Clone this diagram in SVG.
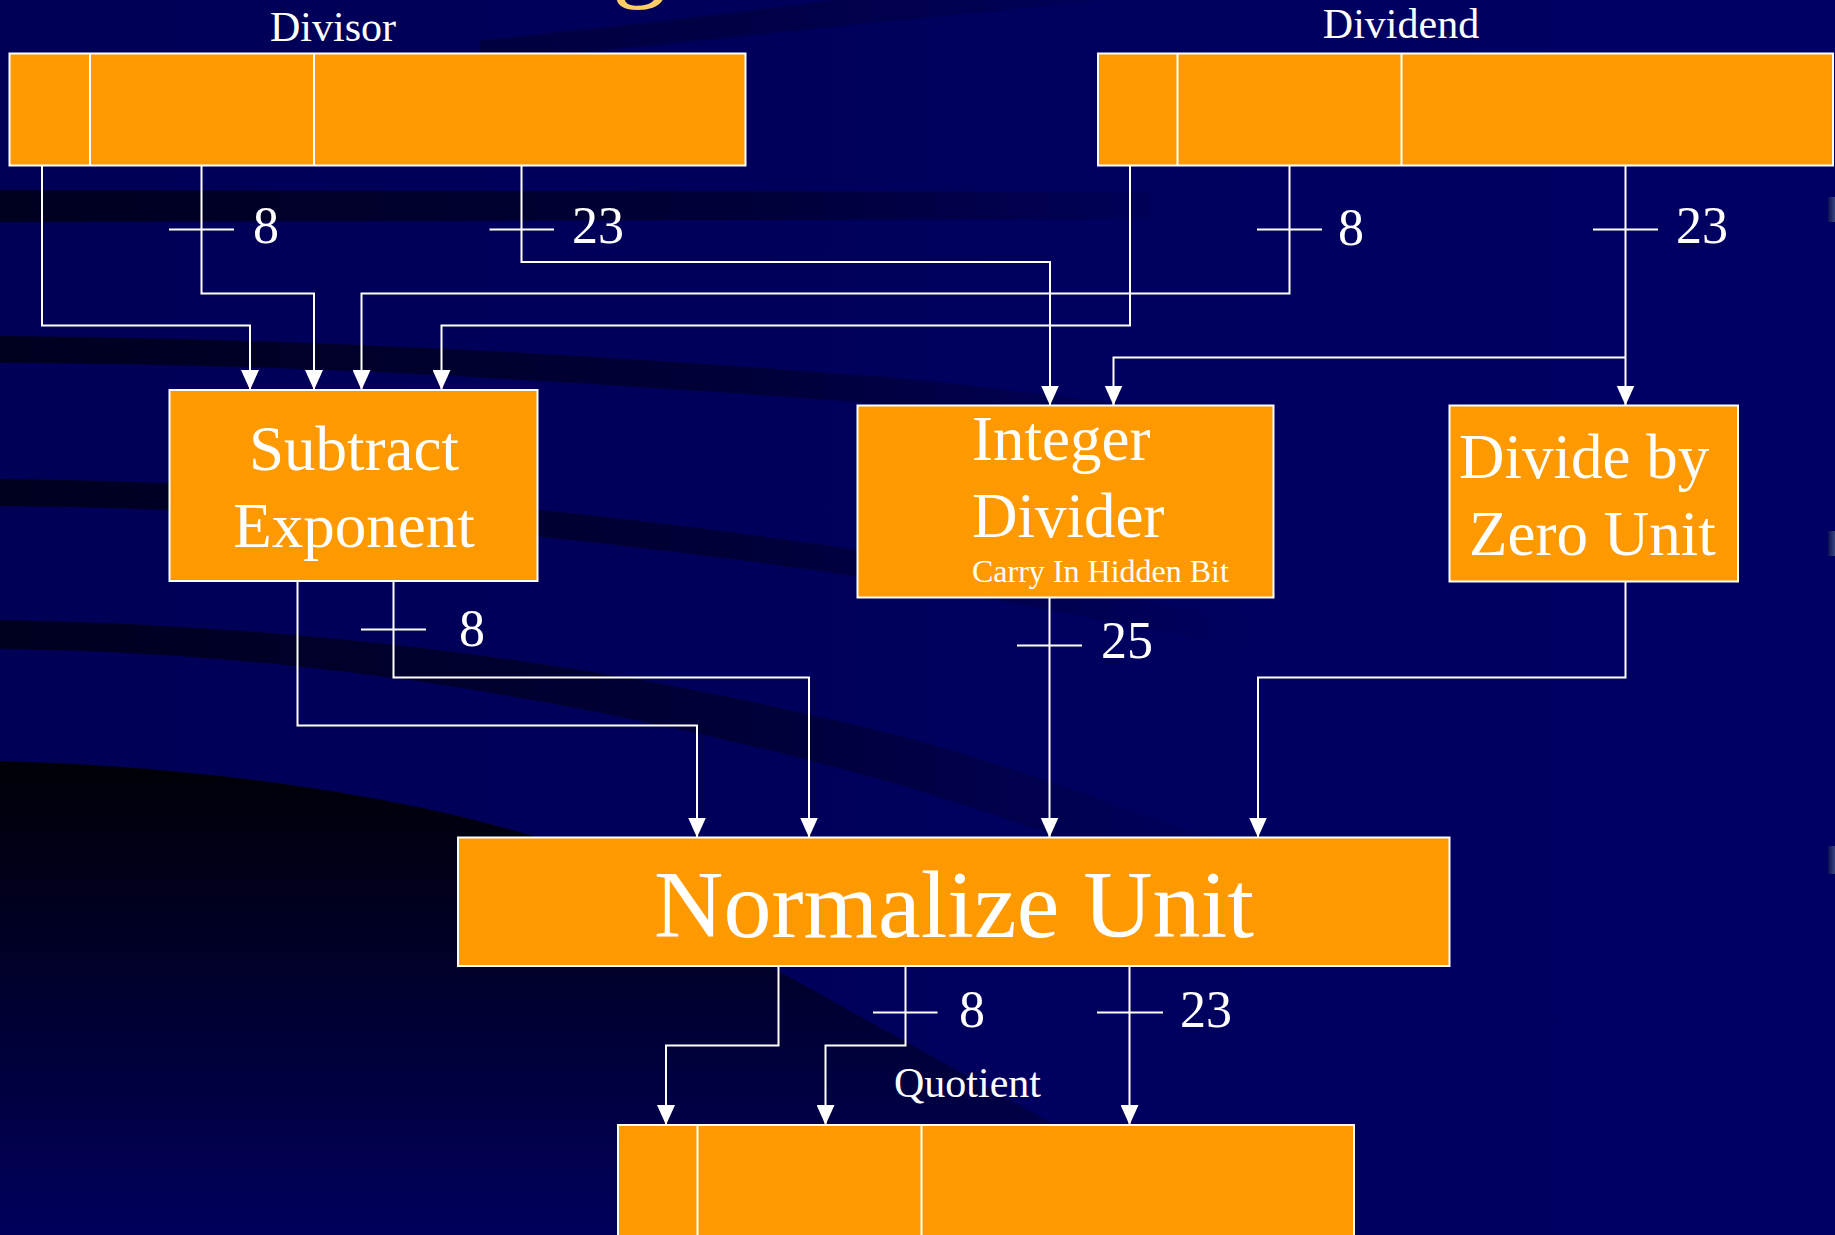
<svg xmlns="http://www.w3.org/2000/svg" width="1835" height="1235" viewBox="0 0 1835 1235">
<defs>
<style>
.box{fill:#ff9900;stroke:#ffffff;stroke-width:2}
.div{stroke:#ffffff;stroke-width:2;fill:none}
.wire{stroke:#ffffff;stroke-width:2;fill:none}
.arr{marker-end:url(#ah)}
.t{font-family:"Liberation Serif","Times New Roman",serif;fill:#ffffff}
.big{font-size:63px}
.num{font-size:52px}
.cap{font-size:42px}
.small{font-size:32px}
.huge{font-size:96px}
</style>
<marker id="ah" markerUnits="userSpaceOnUse" markerWidth="20" markerHeight="18" refX="20" refY="9" orient="auto" viewBox="0 0 20 18">
<path d="M0,0 L20,9 L0,18 Z" fill="#ffffff"/>
</marker>
<linearGradient id="bg" x1="0" y1="0" x2="1" y2="0">
<stop offset="0" stop-color="#000056"/>
<stop offset="1" stop-color="#000064"/>
</linearGradient>
<linearGradient id="bandfade" gradientUnits="userSpaceOnUse" x1="0" y1="0" x2="1250" y2="0">
<stop offset="0" stop-color="#00001c" stop-opacity="0.95"/>
<stop offset="0.6" stop-color="#00001c" stop-opacity="0.55"/>
<stop offset="1" stop-color="#00001c" stop-opacity="0"/>
</linearGradient>
<linearGradient id="darkv" gradientUnits="userSpaceOnUse" x1="0" y1="770" x2="0" y2="1235">
<stop offset="0" stop-color="#000008"/>
<stop offset="0.35" stop-color="#000024"/>
<stop offset="1" stop-color="#00005c"/>
</linearGradient>
<linearGradient id="edge" x1="0" y1="0" x2="1" y2="0">
<stop offset="0" stop-color="#0a1050"/>
<stop offset="1" stop-color="#3a4680"/>
</linearGradient>
</defs>

<g id="background">
<rect x="0" y="0" width="1835" height="1235" fill="url(#bg)"/>
<path d="M480,62 C700,42 900,18 1160,-4 L1160,-40 C900,-10 700,20 480,40 Z" fill="url(#bandfade)" opacity="0.6"/>
<path d="M0,190 L1150,192 L1150,219 L0,222 Z" fill="url(#bandfade)"/>
<path d="M0,336 C300,338 600,355 900,378 C1000,388 1100,402 1250,420 L1250,446 C1100,428 1000,414 900,405 C600,383 300,363 0,363 Z" fill="url(#bandfade)"/>
<path d="M0,479 C300,482 600,510 900,556 C1000,572 1100,592 1250,620 L1250,648 C1100,620 1000,600 900,583 C600,537 300,508 0,506 Z" fill="url(#bandfade)"/>
<path d="M0,620 C300,625 600,660 900,736 C1000,762 1100,800 1250,850 L1250,900 C1100,852 1000,815 900,785 C600,700 300,652 0,649 Z" fill="url(#bandfade)"/>
<path d="M0,761 C200,766 400,795 540,838 L1100,1150 L1260,1235 L0,1235 Z" fill="url(#darkv)"/>
<rect x="1828" y="197" width="7" height="25" fill="url(#edge)"/>
<rect x="1828" y="531" width="7" height="25" fill="url(#edge)"/>
<rect x="1828" y="846" width="7" height="28" fill="url(#edge)"/>
<text x="612" y="-13" font-family="Liberation Serif, serif" font-size="110" fill="#ffcc66">g</text>
</g>

<g id="connectors">
<path class="wire arr" d="M42,165 V325.5 H250 V390"/>
<path class="wire arr" d="M201.5,165 V293.5 H314 V390"/>
<path class="wire" d="M169,229.5 H234"/>
<path class="wire arr" d="M521.5,165 V262 H1050 V405.5"/>
<path class="wire" d="M489.5,229.5 H554"/>
<path class="wire arr" d="M1130,165 V325.5 H441.5 V390"/>
<path class="wire arr" d="M1289.5,165 V293.5 H361.5 V390"/>
<path class="wire" d="M1257,229.5 H1322"/>
<path class="wire arr" d="M1625.5,165 V405.5"/>
<path class="wire" d="M1593,229.5 H1658"/>
<path class="wire arr" d="M1625.5,357.5 H1113.5 V405.5"/>
<path class="wire arr" d="M297.5,581 V725.5 H697 V837.5"/>
<path class="wire arr" d="M393.5,581 V677.5 H809 V837.5"/>
<path class="wire" d="M361,629.5 H426"/>
<path class="wire arr" d="M1049.5,597.5 V837.5"/>
<path class="wire" d="M1017,645.5 H1082"/>
<path class="wire arr" d="M1625.5,581.5 V677.5 H1258 V837.5"/>
<path class="wire arr" d="M778.5,966 V1045.5 H666 V1125"/>
<path class="wire arr" d="M905.5,966 V1045.5 H825.5 V1125"/>
<path class="wire" d="M873,1012.5 H937.5"/>
<path class="wire arr" d="M1129.5,966 V1125"/>
<path class="wire" d="M1097,1012.5 H1163"/>
<text class="t num" x="253" y="243">8</text>
<text class="t num" x="572" y="243">23</text>
<text class="t num" x="1338" y="245">8</text>
<text class="t num" x="1676" y="243">23</text>
<text class="t num" x="459" y="646">8</text>
<text class="t num" x="1101" y="658">25</text>
<text class="t num" x="959" y="1027">8</text>
<text class="t num" x="1180" y="1027">23</text>
</g>

<g id="divisor">
<text class="t cap" x="333" y="41" text-anchor="middle">Divisor</text>
<rect class="box" x="9.5" y="53.5" width="736" height="112"/>
<path class="div" d="M90,53.5 V165.5 M314,53.5 V165.5"/>
</g>

<g id="dividend">
<text class="t cap" x="1401" y="38" text-anchor="middle">Dividend</text>
<rect class="box" x="1098" y="53.5" width="735" height="112"/>
<path class="div" d="M1177.5,53.5 V165.5 M1401.5,53.5 V165.5"/>
</g>

<g id="subtract-exponent">
<rect class="box" x="169.5" y="390" width="368" height="191"/>
<text class="t big" x="354" y="470" text-anchor="middle">Subtract</text>
<text class="t big" x="354" y="546.5" text-anchor="middle">Exponent</text>
</g>

<g id="integer-divider">
<rect class="box" x="857.5" y="405.5" width="416" height="192"/>
<text class="t big" x="972" y="460">Integer</text>
<text class="t big" x="972" y="536.5">Divider</text>
<text class="t small" x="972" y="581.5">Carry In Hidden Bit</text>
</g>

<g id="divide-by-zero">
<rect class="box" x="1449.5" y="405.5" width="288.5" height="176"/>
<text class="t big" x="1459" y="478">Divide by</text>
<text class="t big" x="1469" y="555">Zero Unit</text>
</g>

<g id="normalize-unit">
<rect class="box" x="458" y="837.5" width="991.5" height="128.5"/>
<text class="t huge" x="954" y="936.5" text-anchor="middle">Normalize Unit</text>
</g>

<g id="quotient">
<text class="t cap" x="967.5" y="1097" text-anchor="middle">Quotient</text>
<rect class="box" x="618" y="1125" width="736" height="130"/>
<path class="div" d="M697.5,1125 V1235 M921.5,1125 V1235"/>
</g>
</svg>
